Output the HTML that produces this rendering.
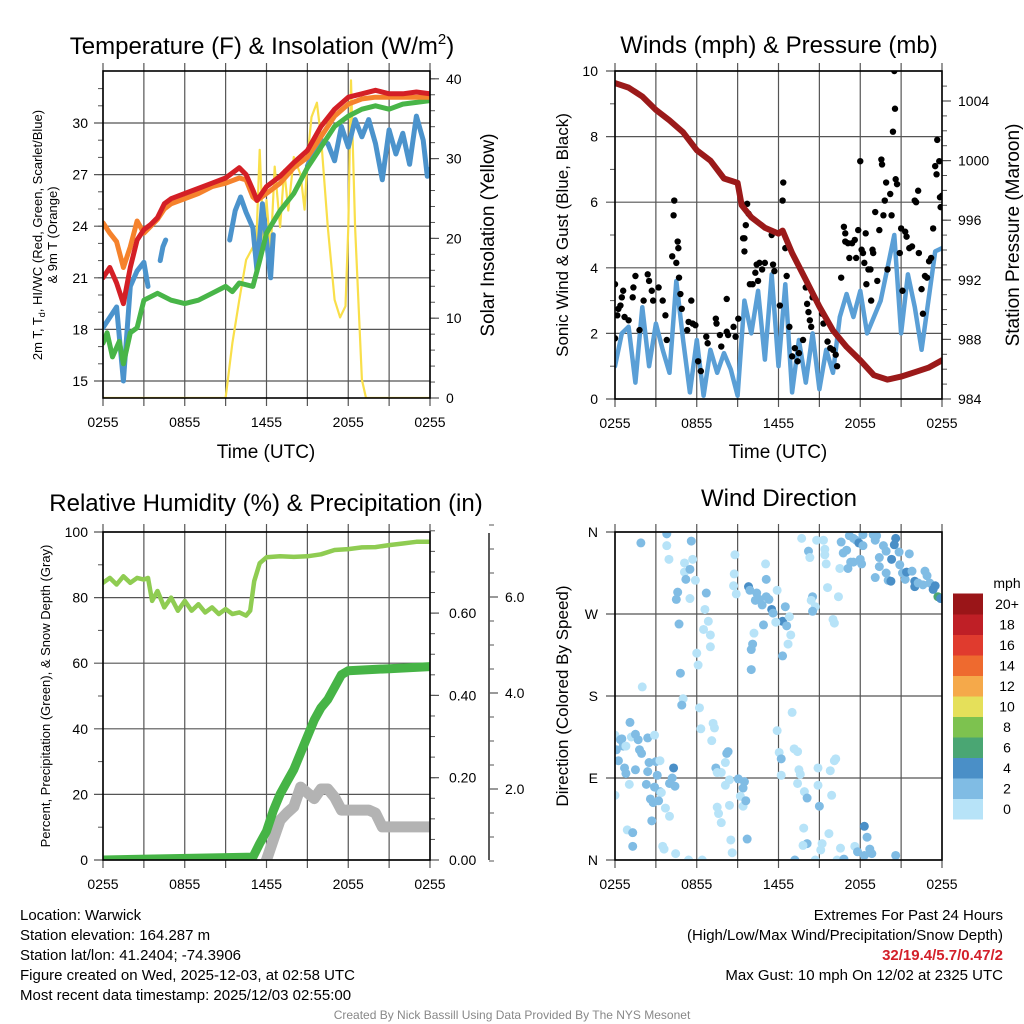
<!DOCTYPE html>
<html><head><meta charset="utf-8">
<style>
html,body{margin:0;padding:0;background:#fff;}
svg{display:block;font-family:"Liberation Sans",Arial,sans-serif;}
.info{position:absolute;font-family:"Liberation Sans",sans-serif;font-size:15px;color:#000;line-height:20px;}
</style></head>
<body>
<div style="position:relative;width:1024px;height:1024px;overflow:hidden">
<svg id="chart" width="1024" height="1024" viewBox="0 0 1024 1024"></svg>
<div class="info" style="left:20px;top:906px">
<div>Location: Warwick</div>
<div>Station elevation: 164.287 m</div>
<div>Station lat/lon: 41.2404; -74.3906</div>
<div>Figure created on Wed, 2025-12-03, at 02:58 UTC</div>
<div>Most recent data timestamp: 2025/12/03 02:55:00</div>
</div>
<div class="info" style="right:21px;top:906px;text-align:right">
<div>Extremes For Past 24 Hours</div>
<div>(High/Low/Max Wind/Precipitation/Snow Depth)</div>
<div style="color:#d3202a;font-weight:bold">32/19.4/5.7/0.47/2</div>
<div>Max Gust: 10 mph On 12/02 at 2325 UTC</div>
</div>
<div class="info" style="left:0;width:1024px;top:1005px;text-align:center;font-size:12px;color:#888">Created By Nick Bassill Using Data Provided By The NYS Mesonet</div>
</div>
<script>
// ---------- data ----------
const xTickLabels = ["0255","0855","1455","2055","0255"];
const xTickHours = [0,6,12,18,24];
// Temperature panel
const tempHours = [0,0.5,1,1.5,2,2.5,3,3.5,4,4.5,5,6,7,8,9,10,10.5,11,11.3,12,13,14,15,16,17,18,19,20,21,22,23,24];
const temp2m =   [21.0,21.6,20.7,19.5,21.6,23.2,23.8,24.1,24.5,25.3,25.6,25.9,26.2,26.5,26.8,27.4,27.0,26.1,25.5,26.3,26.9,27.7,28.4,29.8,30.8,31.5,31.7,31.9,31.7,31.7,31.8,31.7];
const temp9m =   [24.2,23.6,23.1,21.6,22.8,24.3,23.6,24.0,24.4,25.0,25.3,25.6,25.9,26.3,26.5,26.8,26.7,25.7,25.5,25.9,26.5,27.4,28.0,29.2,30.4,31.1,31.4,31.5,31.5,31.5,31.5,31.5];
const dewHours = [0,0.3,0.7,1.2,1.5,2,2.5,3,4,5,6,7,8,9,9.5,10,11,11.5,12,13,14,15,16,17,18,19,20,21,22,23,24];
const dewpoint = [17.2,17.8,16.4,17.3,16.0,17.8,18.1,19.7,20.1,19.7,19.5,19.7,20.1,20.5,20.2,20.7,20.5,22.0,23.6,24.9,25.9,27.4,28.6,29.8,30.4,30.8,31.0,30.8,31.1,31.2,31.3];
const hiwcHours = [0,0.5,1,1.5,2,2.5,3,3.3,null,4.2,4.4,4.6,null,5.4,null,9.3,9.7,10.1,10.5,11,11.3,11.7,12,12.3,12.5,null,13.9,null,15,15.5,16,16.5,17,17.5,18,18.5,19,19.5,20,20.5,21,21.5,22,22.5,23,23.5,23.8,24];
const hiwc =      [18.1,18.7,19.3,15.0,20.5,21.4,21.9,20.5,null,22.0,22.8,23.2,null,24.3,null,23.2,24.9,25.7,24.8,23.9,21.4,25.3,23.2,21.0,23.5,null,26.1,null,27.5,28.4,29.0,28.8,27.8,29.8,28.6,30.2,29.2,30.2,28.8,26.7,29.6,28.2,29.4,27.6,30.4,29.0,26.9,27.3];
const insolHours = [0,9,9.5,10,10.5,11,11.2,11.5,11.8,12,12.3,12.6,13,13.3,13.6,14,14.5,14.8,15,15.3,15.7,16,16.5,17,17.4,17.8,18,18.2,18.5,19,19.3,24];
const insolation = [0,0,6.9,12.3,17.3,18.9,17.0,31.1,18.5,24.8,18.2,29.0,21.4,28.6,23.5,30.2,28.0,23.6,30.0,35.2,37.0,32.7,21.4,12.3,10.1,11.5,21.4,39.8,21.4,2.3,0,0];
// Wind panel
const windHours = [0,0.5,1,1.5,2,2.5,3,3.5,4,4.5,5,5.5,6,6.5,7,7.5,8,8.5,9,9.5,10,10.5,11,11.5,12,12.5,13,13.5,14,14.5,15,15.5,16,16.5,17,17.5,18,18.5,19,19.5,20,20.5,21,21.5,22,22.5,23,23.5,24];
const windSpeed = [1.0,2.0,2.2,0.5,2.8,1.0,2.3,1.5,0.8,3.6,1.8,0.2,1.8,0.1,1.5,0.8,1.4,0.9,0.1,3.0,2.0,3.3,1.2,3.8,1.0,3.5,0.2,1.8,0.5,2.0,0.3,1.5,0.8,2.5,3.2,2.5,3.3,2.0,2.5,3.0,4.0,5.0,2.0,3.8,2.8,1.5,3.0,4.5,4.6];
const gustHours = [0,0,0.17,0.25,0.4,0.5,0.6,0.7,1.0,1.35,1.5,1.3,1.8,2.1,2.4,2.5,2.7,2.8,3.2,3.5,3.7,3.8,4.2,4.3,4.35,4.5,4.6,4.65,4.7,4.8,4.9,5.3,5.4,5.6,5.7,5.9,6.1,6.3,6.7,6.8,7.4,7.45,7.7,7.8,8.2,8.2,8.3,8.7,8.85,9.05,9.4,9.5,9.5,9.6,9.7,9.8,9.9,10.1,10.3,10.4,10.5,10.6,10.8,11.0,11.5,11.6,11.7,12.1,12.3,12.35,12.5,12.6,12.8,13.0,13.2,13.4,13.5,13.8,14.0,14.1,14.2,14.3,14.4,14.5,15.2,15.3,15.6,15.8,16.0,16.2,16.3,16.6,16.8,16.9,16.9,17.1,17.2,17.4,17.6,17.7,17.85,18.0,18.1,18.2,18.4,18.3,18.45,18.6,18.75,18.8,18.9,18.95,19.1,19.25,19.4,19.55,19.6,19.7,19.8,19.9,20.0,20.2,20.3,20.4,20.5,20.55,20.6,20.7,20.9,21.0,21.1,21.3,21.4,21.6,21.8,22.0,22.1,22.25,22.3,22.5,22.6,22.75,22.9,23.05,23.2,23.35,23.5,23.6,23.65,23.8,23.85,23.9,24.0];
const gustSpeed = [3.5,1.85,2.55,2.75,2.85,3.1,3.3,2.5,2.4,3.4,3.75,3.1,2.1,3.0,3.8,3.6,3.3,3.0,3.4,3.0,2.55,1.8,4.35,5.6,6.05,4.15,4.8,4.6,3.7,3.2,2.75,2.1,2.35,3.0,2.3,2.25,1.15,0.85,1.9,1.7,2.45,2.3,1.95,1.6,3.05,2.05,1.95,2.2,1.9,2.45,4.9,4.9,4.5,5.3,5.95,5.65,3.5,3.5,3.85,4.1,3.6,4.15,3.95,4.15,5.0,4.1,3.9,2.85,6.05,6.6,4.6,3.75,2.2,1.3,1.55,1.15,1.4,1.8,3.4,2.9,2.65,2.4,2.2,3.1,2.6,2.3,1.75,1.55,1.5,1.35,1.0,3.7,5.25,5.05,4.8,4.75,4.3,4.75,4.85,4.3,5.15,7.25,4.55,4.45,5.05,4.15,3.5,3.95,3.95,3.0,4.55,4.45,5.7,3.6,5.15,7.3,7.15,5.6,6.05,6.6,3.95,6.25,5.6,8.15,10.0,8.85,6.7,6.55,4.45,5.2,3.3,5.1,4.95,4.6,4.65,6.05,6.0,6.35,4.45,3.35,2.6,3.75,3.7,4.2,4.3,5.2,7.1,6.85,7.9,7.25,6.15,5.85,6.2];
const presHours = [0,1,2,3,4,5,6,7,8,9,9.3,10,11,12,12.3,13,14,15,16,17,18,19,20,21,22,23,24];
const pressure = [1005.2,1004.9,1004.3,1003.4,1002.7,1001.9,1000.7,1000.0,998.8,998.5,997.0,996.2,995.5,995.1,995.3,993.8,992.0,990.2,988.6,987.5,986.6,985.6,985.3,985.5,985.8,986.1,986.6];
// RH / precip / snow panel
const rhHours = [0,0.5,1,1.5,2,2.5,3,3.3,3.6,4,4.5,5,5.5,6,6.5,7,7.5,8,8.5,9,9.5,10,10.5,10.8,11.1,11.5,12,13,14,15,16,17,18,19,20,21,22,23,24];
const rhValues = [84.5,86,84,86.5,84.5,86,85.5,86,79,82,77,80,76,79,76,78,75.5,77,75,76.5,75,75.5,74.5,76,85,90.5,92.3,92.6,92.4,92.6,93.2,94.5,94.8,95.3,95.4,96,96.5,97,97];
const precipHours = [0,11,11.5,12,12.5,13,13.5,14,14.5,15,15.5,16,16.5,17,17.5,18,21,24];
const precipValues = [0,0.007,0.04,0.07,0.12,0.16,0.19,0.22,0.26,0.30,0.34,0.37,0.39,0.42,0.45,0.46,0.465,0.47];
const snowHours = [11.6,12,12.5,13,13.5,14,14.5,15,15.5,16,16.5,17,17.5,18,19,19.5,20,20.5,21,24];
const snowDepth = [0.3,0.52,0.94,1.35,1.5,1.63,2.04,1.92,1.8,2.0,2.0,1.83,1.56,1.56,1.56,1.56,1.5,1.21,1.21,1.21];
// Wind direction panel
const dirHours = [1.9,3.8,3.8,3.96,5.6,5.1,5.7,5.1,5.5,5.2,5.9,4.6,4.5,5.5,6.7,6.6,6.85,6.5,7.0,7.0,6.0,6.1,4.7,4.8,2.0,5.0,4.9,8.8,8.75,8.7,8.9,9.8,9.9,10.4,10.6,10.3,10.8,11.1,11.3,11.5,11.6,11.05,11.1,11.9,12.5,12.3,12.6,12.8,12.9,12.7,12.3,11.8,10.9,10.2,10.1,10.0,10.0,13.7,14.8,15.3,15.4,15.4,15.5,14.2,14.3,16.5,16.4,15.6,14.5,14.4,14.7,14.5,16.0,16.1,16.6,16.75,17.0,17.2,17.5,17.7,17.9,18.2,18.2,17.1,17.3,17.5,18.0,18.1,18.95,19.2,19.1,19.7,19.9,19.4,19.4,19.1,19.9,20.05,20.3,20.5,20.6,20.85,20.25,20.9,21.1,21.3,21.4,21.6,21.8,22.0,22.0,22.25,22.6,22.75,22.9,23.1,23.35,23.5,23.7,23.9,
 0.0,0.1,0.4,0.5,0.6,0.8,1.1,1.2,1.5,1.7,1.8,1.95,2.4,2.9,0.25,0.7,0.8,1.5,2.4,2.5,3.0,3.3,3.1,4.3,4.2,4.0,4.4,2.3,2.9,3.3,3.4,1.05,0.0,2.6,2.8,3.2,3.7,4.0,2.7,0.9,1.3,1.3,3.5,3.6,4.45,5.4,6.4,6.2,6.3,7.2,7.3,7.1,8.2,8.3,8.1,7.8,7.4,7.5,8.4,8.1,9.05,9.5,9.4,9.2,9.4,9.6,7.5,7.6,7.8,8.4,8.5,8.6,9.7,11.9,12.05,12.2,12.2,13.0,13.15,13.4,13.5,13.6,13.4,13.9,14.1,15.0,14.9,14.9,15.8,16.1,16.2,15.9,13.85,15.7,15.2,15.1,14.1,13.8,13.2,14.7,16.3,16.55,16.8,17.6,17.8,18.3,18.5,18.7,18.85,18.3,20.6];
const dirDegrees = [348,358,345,330,350,326,330,316,319,308,307,294,286,287,293,275,262,253,247,234,227,214,259,205,190,177,170,335,314,301,292,300,296,293,286,285,280,289,286,275,271,325,308,296,278,262,257,267,247,237,224,261,258,249,237,231,209,353,351,351,341,335,325,339,332,320,289,299,289,285,278,273,264,260,349,337,340,356,353,351,348,345,357,320,327,327,330,325,357,356,351,345,339,332,322,310,315,307,330,346,353,338,306,324,315,308,316,336,317,306,300,304,302,317,312,304,297,301,289,287,
 137,121,132,133,125,125,151,135,138,132,121,117,134,137,109,101,95,99,97,107,108,109,93,101,90,84,81,83,80,75,74,83,71,67,63,65,57,48,43,33,30,15,15,12,7,0,0,167,144,150,145,131,117,119,107,96,101,96,88,82,89,86,79,70,59,65,58,51,41,60,22,8,23,142,118,111,93,162,122,119,99,94,84,75,68,59,82,101,98,109,111,71,35,29,18,11,18,16,0,0,0,13,1,15,9,37,25,12,7,5,5];
const dirSpeeds = [3,3,1,1,3,1,1,1,3,3,1,3,3,1,3,1,1,1,1,1,1,1,3,3,1,1,3,1,1,1,1,5,3,3,3,3,3,3,3,5,3,1,3,1,3,5,3,1,1,1,3,1,3,1,3,3,3,1,1,1,1,1,1,3,1,1,1,1,3,1,1,3,1,1,3,3,3,3,3,3,5,3,3,3,3,3,3,3,3,3,3,3,3,3,3,3,3,3,5,5,5,3,5,3,3,3,5,3,3,5,5,3,3,3,3,3,5,5,7,5,
 1,3,3,3,3,1,3,1,3,3,3,3,3,1,3,3,3,3,3,3,3,1,3,5,3,3,3,3,3,3,1,1,1,3,3,3,1,1,3,1,3,3,1,1,1,1,1,1,1,1,1,1,3,3,1,1,3,1,1,1,3,3,3,1,1,3,1,1,1,1,1,1,3,1,1,3,1,1,1,1,1,1,1,1,3,3,1,1,1,1,1,1,1,1,1,1,3,1,3,1,1,1,3,1,3,5,3,3,3,3,3,5];
const speedBinLabels = ["0","2","4","6","8","10","12","14","16","18","20+"];
const speedBinColors = ["#b7e3f8","#80bce4","#4a8fc7","#4aa673","#7dc24f","#e5e05a","#f5a94a","#ee6a2f","#e03b2e","#bf1f26","#9a1518"];

// ---------- helpers ----------
const NS="http://www.w3.org/2000/svg";
const svg=document.getElementById('chart');
function mk(tag,attrs,parent){const e=document.createElementNS(NS,tag);for(const k in attrs)e.setAttribute(k,attrs[k]);(parent||svg).appendChild(e);return e;}
function txt(s,x,y,size,anchor,parent,rot){const e=mk('text',{x:x,y:y,'font-size':size,'text-anchor':anchor||'middle',fill:'#000'},parent);if(rot)e.setAttribute('transform','rotate('+rot+' '+x+' '+y+')');e.textContent=s;return e;}
function xScale(p,t){return p.x0+t/24*(p.x1-p.x0);}
function pathFrom(hours,vals,xs,ys){let d='',pen=false;for(let i=0;i<hours.length;i++){if(hours[i]===null||vals[i]===null){pen=false;continue;}d+=(pen?'L':'M')+xs(hours[i]).toFixed(1)+' '+ys(vals[i]).toFixed(1);pen=true;}return d;}

const P1={x0:103,x1:430,y0:71,y1:398}, P2={x0:615,x1:942,y0:71,y1:399}, P3={x0:103,x1:430,y0:532,y1:860}, P4={x0:615,x1:942,y0:532,y1:860};
const y1L=v=>381-(v-15)*17.2, y1R=v=>398-v*7.98;
const y2L=v=>399-v*32.8, y2R=v=>399-(v-984)*14.9;
const y3L=v=>860-v*3.28, y3P=v=>860-v*411.5, y3S=v=>885-v*48;
const y4=d=>860-d/360*328;

function frame(p,name){
  const g=mk('g',{});
  
  
  for(let h=0;h<=24;h+=3){const x=xScale(p,h);const l=mk('line',{x1:x,x2:x,y1:p.y0-8,y2:p.y1+8,stroke:'#555','stroke-width':1.2},g);
    
    }
  for(let i=0;i<xTickLabels.length;i++){const t=txt(xTickLabels[i],xScale(p,xTickHours[i]),p.y1+29,14,'middle',g);
    
    }
  const cp=mk('clipPath',{id:'clip-'+name});mk('rect',{x:p.x0,y:p.y0,width:p.x1-p.x0,height:p.y1-p.y0},cp);
  return g;
}
function hgrid(p,g,vals,ys,labels,lx){
  vals.forEach((v,i)=>{const y=ys(v);const l=mk('line',{x1:p.x0-9,x2:p.x1,y1:y,y2:y,stroke:'#555','stroke-width':1.2},g);
    
    
    const t=txt(labels[i],lx,y+5,14,'end',g);
    
    });
}
function minor(g,x,vals,ys,len){vals.forEach(v=>{const y=ys(v);mk('line',{x1:x,x2:x+len,y1:y,y2:y,stroke:'#555','stroke-width':1},g);});}
function border(p,g){const r=mk('rect',{x:p.x0,y:p.y0,width:p.x1-p.x0,height:p.y1-p.y0,fill:'none',stroke:'#000','stroke-width':1.6},g);
  
  }
function range(a,b,s){const r=[];for(let v=a;v<=b+1e-9;v+=s)r.push(+v.toFixed(3));return r;}

// ---------- Panel 1 ----------
let g=frame(P1,'temperature-panel');
hgrid(P1,g,[15,18,21,24,27,30],y1L,["15","18","21","24","27","30"],88);
minor(g,P1.x0-5,range(15,32,1),y1L,5);
range(0,40,10).forEach(v=>{const y=y1R(v);mk('line',{x1:P1.x1,x2:P1.x1+9,y1:y,y2:y,stroke:'#555','stroke-width':1.2},g);
  const t=txt(String(v),446,y+5,14,'start',g);
  
  });
minor(g,P1.x1,range(2,40,2),y1R,5);
let s=mk('g',{'clip-path':'url(#clip-temperature-panel)',fill:'none','stroke-linejoin':'round','stroke-linecap':'round'},g);
let e;
e=mk('path',{d:pathFrom(insolHours,insolation,t=>xScale(P1,t),y1R),stroke:'#f9df4a','stroke-width':2.2},s);


e=mk('path',{d:pathFrom(hiwcHours,hiwc,t=>xScale(P1,t),y1L),stroke:'#4b93cc','stroke-width':5},s);


e=mk('path',{d:pathFrom(dewHours,dewpoint,t=>xScale(P1,t),y1L),stroke:'#48b548','stroke-width':5},s);


e=mk('path',{d:pathFrom(tempHours,temp9m,t=>xScale(P1,t),y1L),stroke:'#f5822c','stroke-width':5},s);


e=mk('path',{d:pathFrom(tempHours,temp2m,t=>xScale(P1,t),y1L),stroke:'#d41f26','stroke-width':5},s);


border(P1,g);
e=txt('Temperature (F) & Insolation (W/m',262,54,24,'middle',g);
const sup=mk('tspan',{'font-size':15,dy:-10},e);sup.textContent='2';
const cl=mk('tspan',{dy:10},e);cl.textContent=')';


e=txt('Time (UTC)',266,458,19,'middle',g);


e=txt('Solar Insolation (Yellow)',494,235,19,'middle',g,-90);


e=txt('2m T, T',42,235,13,'middle',g,-90);
const sub=mk('tspan',{'font-size':9,dy:3},e);sub.textContent='d';
const rest=mk('tspan',{dy:-3},e);rest.textContent=', HI/WC (Red, Green, Scarlet/Blue)';


e=txt('& 9m T (Orange)',57,235,13,'middle',g,-90);



// ---------- Panel 2 ----------
g=frame(P2,'wind-panel');
hgrid(P2,g,[0,2,4,6,8,10],y2L,["0","2","4","6","8","10"],598);
minor(g,P2.x0-5,range(1,9,2),y2L,5);
range(984,1004,4).forEach(v=>{const y=y2R(v);mk('line',{x1:P2.x1,x2:P2.x1+9,y1:y,y2:y,stroke:'#555','stroke-width':1.2},g);
  const t=txt(String(v),958,y+5,14,'start',g);
  
  });
minor(g,P2.x1,range(985,1005,1),y2R,5);
s=mk('g',{'clip-path':'url(#clip-wind-panel)',fill:'none','stroke-linejoin':'round','stroke-linecap':'round'},g);
e=mk('path',{d:pathFrom(windHours,windSpeed,t=>xScale(P2,t),y2L),stroke:'#5a9fd6','stroke-width':4.5},s);


for(let i=0;i<gustHours.length;i++){const c=mk('circle',{cx:xScale(P2,gustHours[i]),cy:y2L(gustSpeed[i]),r:3.2,fill:'#000'},s);
  
  }
e=mk('path',{d:pathFrom(presHours,pressure,t=>xScale(P2,t),y2R),stroke:'#9b1a1a','stroke-width':6},s);


border(P2,g);
e=txt('Winds (mph) & Pressure (mb)',779,53,24,'middle',g);


e=txt('Time (UTC)',778,458,19,'middle',g);


e=txt('Sonic Wind & Gust (Blue, Black)',568,235,17,'middle',g,-90);


e=txt('Station Pressure (Maroon)',1019,235,19,'middle',g,-90);



// ---------- Panel 3 ----------
g=frame(P3,'humidity-panel');
hgrid(P3,g,[0,20,40,60,80,100],y3L,["0","20","40","60","80","100"],88);
minor(g,P3.x0-5,range(10,90,20),y3L,5);
range(0,0.6,0.2).forEach(v=>{const y=y3P(v);mk('line',{x1:P3.x1,x2:P3.x1+9,y1:y,y2:y,stroke:'#555','stroke-width':1.2},g);
  const t=txt(v.toFixed(2),449,y+5,14,'start',g);
  
  });
minor(g,P3.x1,range(0.05,0.8,0.05),y3P,5);
mk('line',{x1:489,x2:489,y1:533,y2:860,stroke:'#333','stroke-width':1.6},g);
range(2,6,2).forEach(v=>{const y=y3S(v);mk('line',{x1:489,x2:498,y1:y,y2:y,stroke:'#555','stroke-width':1.2},g);
  const t=txt(v.toFixed(1),505,y+5,14,'start',g);
  
  });
minor(g,489,range(0.5,7.5,0.5),y3S,5);
s=mk('g',{'clip-path':'url(#clip-humidity-panel)',fill:'none','stroke-linejoin':'round','stroke-linecap':'round'},g);
e=mk('path',{d:pathFrom(snowHours,snowDepth,t=>xScale(P3,t),y3S),stroke:'#b3b3b3','stroke-width':11},s);


e=mk('path',{d:pathFrom(precipHours,precipValues,t=>xScale(P3,t),y3P),stroke:'#46b446','stroke-width':9},s);


e=mk('path',{d:pathFrom(rhHours,rhValues,t=>xScale(P3,t),y3L),stroke:'#8fcc52','stroke-width':4.5},s);


border(P3,g);
e=txt('Relative Humidity (%) & Precipitation (in)',266,511,24,'middle',g);


e=txt('Percent, Precipitation (Green), & Snow Depth (Gray)',50,696,13,'middle',g,-90);



// ---------- Panel 4 ----------
g=frame(P4,'wind-direction-panel');
hgrid(P4,g,[0,90,180,270,360],y4,["N","E","S","W","N"],598);
s=mk('g',{'clip-path':'url(#clip-wind-direction-panel)'},g);
function binColor(v){let i=Math.floor(v/2);if(i<0)i=0;if(i>10)i=10;return speedBinColors[i];}
for(let i=0;i<dirHours.length;i++){const c=mk('circle',{cx:xScale(P4,dirHours[i]),cy:y4(dirDegrees[i]),r:4.5,fill:binColor(dirSpeeds[i])},s);
  
  }
border(P4,g);
e=txt('Wind Direction',779,506,24,'middle',g);


e=txt('Direction (Colored By Speed)',568,696,17,'middle',g,-90);


const cb=mk('g',{});


const segH=20.5, cbBottom=819;
for(let i=0;i<speedBinColors.length;i++){const y=cbBottom-(i+1)*segH;
  const r=mk('rect',{x:953,y:y,width:30,height:segH+0.5,fill:speedBinColors[i]},cb);
  
  
  const t=txt(speedBinLabels[i],1007,y+segH/2+5,14,'middle',cb);
  
  }
e=txt('mph',1007,588,14,'middle',cb);


</script>
</body></html>
